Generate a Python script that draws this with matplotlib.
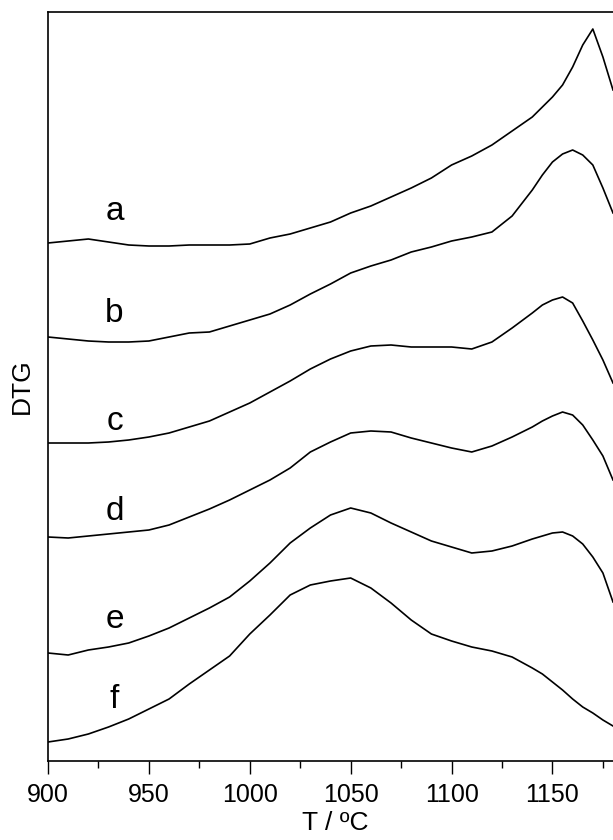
import numpy as np
import matplotlib
matplotlib.use("Agg")
import matplotlib.pyplot as plt
from matplotlib.ticker import MultipleLocator

plt.rcParams['font.family'] = ['Liberation Sans', 'DejaVu Sans']

# temperature grid (degC) the curves were read at
temp = [900, 910, 920, 930, 940, 950, 960, 970, 980, 990, 1000, 1010, 1020,
        1030, 1040, 1050, 1060, 1070, 1080, 1090, 1100, 1110, 1120, 1130,
        1140, 1145, 1150, 1155, 1160, 1165, 1170, 1175, 1180]

# DTG signals, arbitrary units, relative to each curve's start value
dtg_a = [0, 2, 4, 1, -2, -3, -3, -2, -2, -2, -1, 5, 9, 15, 21, 30, 37, 46, 55,
         65, 78, 87, 98, 112, 126, 136, 146, 158, 176, 198, 214, 186, 153]
dtg_b = [0, -2, -4, -5, -5, -4, 0, 4, 5, 11, 17, 23, 32, 43, 53, 64, 71, 77,
         85, 90, 96, 100, 105, 121, 147, 162, 175, 183, 187, 182, 172, 149, 124]
dtg_c = [0, 0, 0, 1, 3, 6, 10, 16, 22, 31, 40, 51, 62, 74, 84, 92, 97, 98, 96,
         96, 96, 94, 101, 115, 130, 138, 143, 146, 140, 122, 103, 83, 60]
dtg_d = [0, -1, 1, 3, 5, 7, 12, 20, 28, 37, 47, 57, 69, 85, 95, 104, 106, 105,
         99, 94, 89, 85, 91, 100, 110, 116, 121, 125, 122, 112, 97, 81, 57]
dtg_e = [0, -2, 3, 6, 10, 17, 25, 35, 45, 56, 72, 90, 110, 125, 138, 145, 140,
         130, 121, 112, 106, 100, 102, 107, 114, 117, 120, 121, 117, 109, 96, 80, 51]
dtg_f = [0, 3, 8, 15, 23, 33, 43, 58, 72, 86, 108, 127, 147, 157, 161, 164, 154,
         139, 122, 108, 101, 95, 91, 85, 74, 68, 60, 52, 43, 35, 29, 22, 16]

labels = ['a', 'b', 'c', 'd', 'e', 'f']
offsets = [517, 423, 317, 223, 107, 18]      # vertical stacking of curves
label_y = [548, 447, 338, 248, 140, 60]

curves = [dtg_a, dtg_b, dtg_c, dtg_d, dtg_e, dtg_f]

fig = plt.figure(figsize=(6.13, 8.4), dpi=100)
ax = fig.add_axes([48 / 613, 79 / 840, 565 / 613, 749 / 840])

for lab, curve, off, ly in zip(labels, curves, offsets, label_y):
    ax.plot(temp, np.array(curve) + off, color='black', lw=1.2)
    ax.text(933, ly, lab, fontsize=24, ha='center', va='center')

ax.set_xlim(900, 1180)
ax.set_ylim(-1, 748)

ax.xaxis.set_major_locator(MultipleLocator(50))
ax.xaxis.set_minor_locator(MultipleLocator(25))
ax.tick_params(axis='x', which='major', direction='out', length=9.5, width=1,
               labelsize=18, pad=6)
ax.tick_params(axis='x', which='minor', direction='out', length=4.7, width=1)
ax.set_yticks([])

ax.spines['right'].set_visible(False)
for s in ['left', 'top', 'bottom']:
    ax.spines[s].set_linewidth(1.2)

ax.set_xlabel('T / ºC', fontsize=19, labelpad=3, x=0.508)
ax.set_ylabel('DTG', fontsize=19, labelpad=10)

fig.savefig('out.png', dpi=100)
plt.close('all')
